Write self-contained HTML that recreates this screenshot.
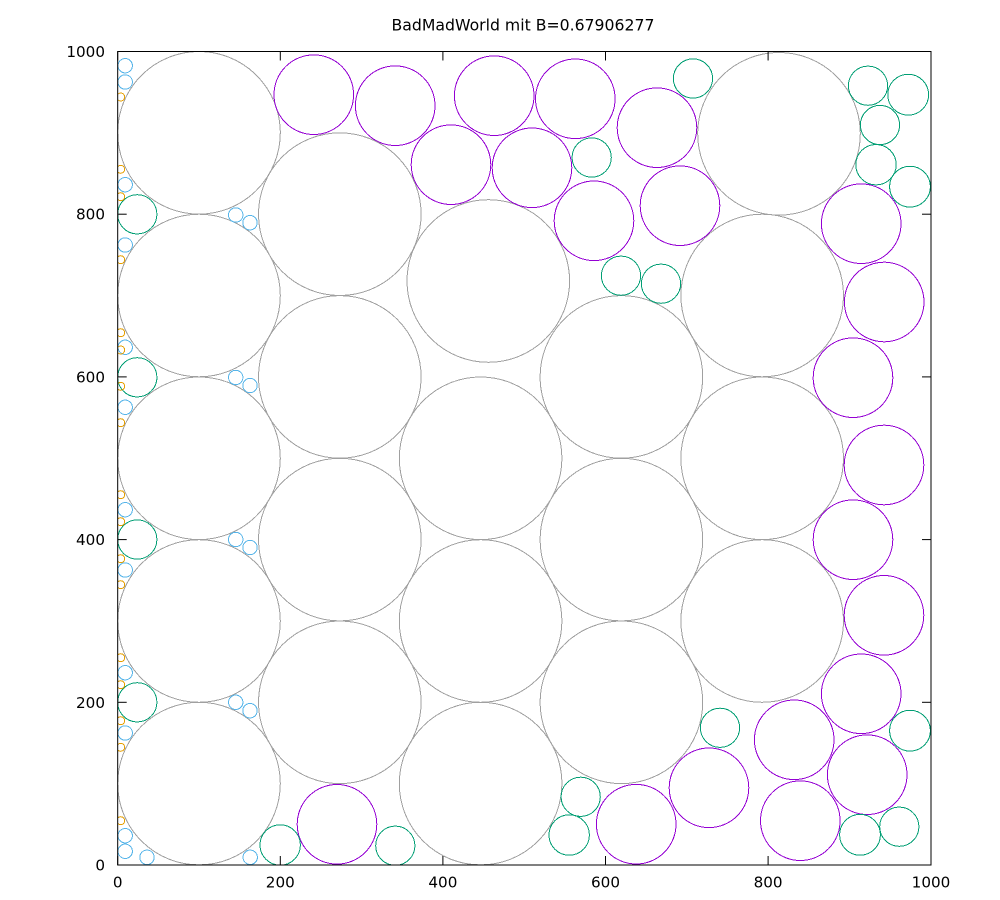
<!DOCTYPE html>
<html>
<head>
<meta charset="utf-8">
<style>
html,body{margin:0;padding:0;background:#fff;}
svg{display:block;}
text{font-family:"DejaVu Sans","Liberation Sans",sans-serif;fill:#000;}
</style>
</head>
<body>
<svg width="1000" height="900" viewBox="0 0 1000 900" xmlns="http://www.w3.org/2000/svg">
<defs>
<clipPath id="pa"><rect x="117.7" y="51.5" width="813.3" height="813.5"/></clipPath>
</defs>
<rect width="1000" height="900" fill="#fff"/>
<text x="523" y="30.5" font-size="15.7" text-anchor="middle">BadMadWorld mit B=0.67906277</text>

<g clip-path="url(#pa)" fill="none" stroke-width="1" shape-rendering="crispEdges">
<!-- gray big circles -->
<g stroke="#a0a0a0">
<circle cx="199" cy="783.6" r="81.3"/>
<circle cx="199" cy="621" r="81.3"/>
<circle cx="199" cy="458.3" r="81.3"/>
<circle cx="199" cy="295.5" r="81.3"/>
<circle cx="199" cy="132.8" r="81.3"/>
<circle cx="339.8" cy="702.3" r="81.3"/>
<circle cx="339.8" cy="539.6" r="81.3"/>
<circle cx="339.8" cy="376.9" r="81.3"/>
<circle cx="339.8" cy="214.2" r="81.3"/>
<circle cx="480.6" cy="783.6" r="81.3"/>
<circle cx="480.6" cy="621" r="81.3"/>
<circle cx="480.6" cy="458.3" r="81.3"/>
<circle cx="488.3" cy="281" r="81.3"/>
<circle cx="621.4" cy="702.3" r="81.3"/>
<circle cx="621.4" cy="539.6" r="81.3"/>
<circle cx="621.4" cy="376.9" r="81.3"/>
<circle cx="762.2" cy="621" r="81.3"/>
<circle cx="762.2" cy="458.3" r="81.3"/>
<circle cx="762.2" cy="295.5" r="81.3"/>
<circle cx="779" cy="133.8" r="81.3"/>
</g>
<!-- purple circles -->
<g stroke="#9400d3">
<circle cx="313.8" cy="94.7" r="39.8"/>
<circle cx="395.2" cy="105.7" r="39.8"/>
<circle cx="451" cy="164.7" r="39.8"/>
<circle cx="494.2" cy="95.7" r="39.8"/>
<circle cx="532" cy="167.8" r="39.8"/>
<circle cx="575.3" cy="98.8" r="39.8"/>
<circle cx="594" cy="220.8" r="39.8"/>
<circle cx="657" cy="127.7" r="39.8"/>
<circle cx="680" cy="205.7" r="39.8"/>
<circle cx="861.2" cy="223.7" r="39.8"/>
<circle cx="884.2" cy="302" r="39.8"/>
<circle cx="853" cy="377.7" r="39.8"/>
<circle cx="884" cy="465" r="39.8"/>
<circle cx="853" cy="539.7" r="39.8"/>
<circle cx="884" cy="615.3" r="39.8"/>
<circle cx="861.2" cy="693.8" r="39.8"/>
<circle cx="867.2" cy="774.7" r="39.8"/>
<circle cx="800.3" cy="820.7" r="39.8"/>
<circle cx="794.2" cy="739.8" r="39.8"/>
<circle cx="709" cy="787.8" r="39.8"/>
<circle cx="636.2" cy="824.2" r="39.8"/>
<circle cx="337" cy="824.3" r="39.8"/>
</g>
<!-- green circles -->
<g stroke="#009e73">
<circle cx="591.7" cy="157.5" r="19.6"/>
<circle cx="693" cy="78.5" r="19.6"/>
<circle cx="868" cy="85.7" r="19.6"/>
<circle cx="908.2" cy="94.7" r="20.4"/>
<circle cx="880" cy="125" r="19.6"/>
<circle cx="876" cy="164.7" r="20.2"/>
<circle cx="910" cy="186.7" r="20.4"/>
<circle cx="621" cy="275.7" r="19.6"/>
<circle cx="661" cy="283.7" r="19.6"/>
<circle cx="137.3" cy="214.3" r="19.6"/>
<circle cx="137.3" cy="377.3" r="19.6"/>
<circle cx="137.3" cy="539.5" r="19.6"/>
<circle cx="137.3" cy="702.3" r="19.6"/>
<circle cx="280.2" cy="845" r="20.2"/>
<circle cx="395.3" cy="845.7" r="19.6"/>
<circle cx="580.7" cy="796.8" r="19.6"/>
<circle cx="569.2" cy="835" r="20.2"/>
<circle cx="720" cy="727.8" r="19.6"/>
<circle cx="910" cy="730.7" r="20.4"/>
<circle cx="860" cy="834.8" r="20.4"/>
<circle cx="899.3" cy="826.7" r="19.6"/>
</g>
<!-- blue circles -->
<g stroke="#56b4e9">
<circle cx="125.2" cy="65.7" r="7.2"/>
<circle cx="125.2" cy="82" r="7.2"/>
<circle cx="125.2" cy="184.7" r="7.2"/>
<circle cx="125.2" cy="245" r="7.2"/>
<circle cx="125.2" cy="347.3" r="7.2"/>
<circle cx="125.2" cy="407.3" r="7.2"/>
<circle cx="125.2" cy="509.7" r="7.2"/>
<circle cx="125.2" cy="570" r="7.2"/>
<circle cx="125.2" cy="672.7" r="7.2"/>
<circle cx="125.2" cy="733" r="7.2"/>
<circle cx="125.2" cy="835.7" r="7.2"/>
<circle cx="125.2" cy="851.3" r="7.2"/>
<circle cx="147" cy="857.3" r="7.2"/>
<circle cx="250.2" cy="857.3" r="7.2"/>
<circle cx="235.7" cy="215" r="7.2"/>
<circle cx="250" cy="222.7" r="7.2"/>
<circle cx="235.7" cy="377.5" r="7.2"/>
<circle cx="250" cy="385.5" r="7.2"/>
<circle cx="235.7" cy="539.5" r="7.2"/>
<circle cx="250" cy="547.5" r="7.2"/>
<circle cx="235.7" cy="702.3" r="7.2"/>
<circle cx="250" cy="710.7" r="7.2"/>
</g>
<!-- orange circles -->
<g stroke="#e69f00">
<circle cx="120.7" cy="97" r="4"/>
<circle cx="120.7" cy="169.3" r="4"/>
<circle cx="120.7" cy="196.7" r="4"/>
<circle cx="120.7" cy="259.7" r="4"/>
<circle cx="120.7" cy="332.7" r="4"/>
<circle cx="120.7" cy="350" r="4"/>
<circle cx="120.7" cy="386.3" r="4"/>
<circle cx="120.7" cy="422.7" r="4"/>
<circle cx="120.7" cy="494.7" r="4"/>
<circle cx="120.7" cy="521.7" r="4"/>
<circle cx="120.7" cy="558.7" r="4"/>
<circle cx="120.7" cy="584.7" r="4"/>
<circle cx="120.7" cy="657.7" r="4"/>
<circle cx="120.7" cy="684.7" r="4"/>
<circle cx="120.7" cy="720.7" r="4"/>
<circle cx="120.7" cy="747.3" r="4"/>
<circle cx="120.7" cy="820.7" r="4"/>
</g>
</g>

<!-- frame -->
<rect x="117.7" y="51.5" width="813.3" height="813.5" fill="none" stroke="#000" stroke-width="1"/>
<!-- ticks -->
<g stroke="#000" stroke-width="1">
<line x1="117.7" y1="865" x2="117.7" y2="856"/>
<line x1="280.3" y1="865" x2="280.3" y2="856"/>
<line x1="442.9" y1="865" x2="442.9" y2="856"/>
<line x1="605.5" y1="865" x2="605.5" y2="856"/>
<line x1="768.1" y1="865" x2="768.1" y2="856"/>
<line x1="931" y1="865" x2="931" y2="856"/>
<line x1="117.7" y1="51.5" x2="117.7" y2="60.5"/>
<line x1="280.3" y1="51.5" x2="280.3" y2="60.5"/>
<line x1="442.9" y1="51.5" x2="442.9" y2="60.5"/>
<line x1="605.5" y1="51.5" x2="605.5" y2="60.5"/>
<line x1="768.1" y1="51.5" x2="768.1" y2="60.5"/>
<line x1="931" y1="51.5" x2="931" y2="60.5"/>
<line x1="117.7" y1="865" x2="126.7" y2="865"/>
<line x1="117.7" y1="702.3" x2="126.7" y2="702.3"/>
<line x1="117.7" y1="539.6" x2="126.7" y2="539.6"/>
<line x1="117.7" y1="376.9" x2="126.7" y2="376.9"/>
<line x1="117.7" y1="214.2" x2="126.7" y2="214.2"/>
<line x1="117.7" y1="51.5" x2="126.7" y2="51.5"/>
<line x1="931" y1="865" x2="922" y2="865"/>
<line x1="931" y1="702.3" x2="922" y2="702.3"/>
<line x1="931" y1="539.6" x2="922" y2="539.6"/>
<line x1="931" y1="376.9" x2="922" y2="376.9"/>
<line x1="931" y1="214.2" x2="922" y2="214.2"/>
<line x1="931" y1="51.5" x2="922" y2="51.5"/>
</g>
<!-- y labels -->
<g font-size="15.2" text-anchor="end">
<text x="105" y="870.5">0</text>
<text x="105" y="707.8">200</text>
<text x="105" y="545.1">400</text>
<text x="105" y="382.4">600</text>
<text x="105" y="219.7">800</text>
<text x="105" y="57">1000</text>
</g>
<!-- x labels -->
<g font-size="15.2" text-anchor="middle">
<text x="117.7" y="887.5">0</text>
<text x="280.3" y="887.5">200</text>
<text x="442.9" y="887.5">400</text>
<text x="605.5" y="887.5">600</text>
<text x="768.1" y="887.5">800</text>
<text x="931" y="887.5">1000</text>
</g>
</svg>
</body>
</html>
